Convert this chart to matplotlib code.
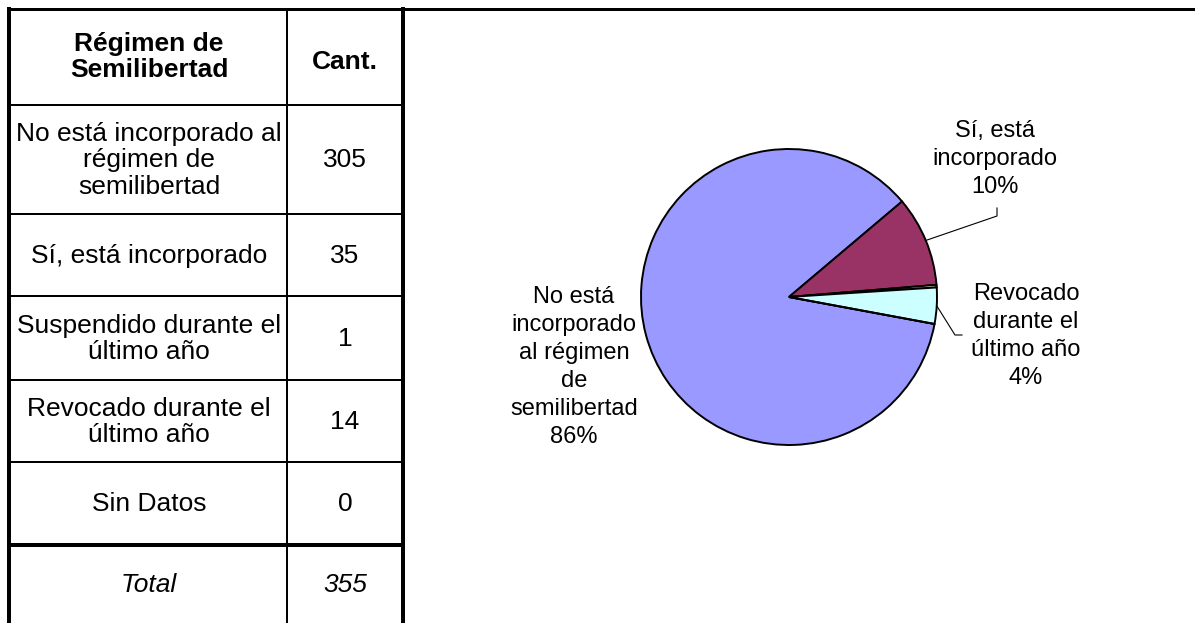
import numpy as np
import matplotlib
matplotlib.use("Agg")
import matplotlib.pyplot as plt

# ---------------- data ----------------
header_left = "Régimen de\nSemilibertad"
header_right = "Cant."
categories = ["No está incorporado al\nrégimen de\nsemilibertad",
              "Sí, está incorporado",
              "Suspendido durante el\núltimo año",
              "Revocado durante el\núltimo año",
              "Sin Datos"]
counts = [305, 35, 1, 14, 0]
total_label = "Total"
pie_labels = ["No está\nincorporado\nal régimen\nde\nsemilibertad",
              "Sí, está\nincorporado",
              None,
              "Revocado\ndurante el\núltimo año",
              None]
colors = ['#9999FF', '#993366', '#FFFFCC', '#CCFFFF', '#660066']

plt.rcParams['font.family'] = ['Liberation Sans', 'DejaVu Sans']

W, H = 1195, 623
fig = plt.figure(figsize=(W / 100, H / 100), dpi=100)

# ---------------- pie ----------------
cx, cy, R = 789, 297, 148
half = 190
pax = fig.add_axes([(cx - half) / W, (H - cy - half) / H, 2 * half / W, 2 * half / H])
wedges, _ = pax.pie(counts, colors=colors, startangle=-10.5, counterclock=False,
                    radius=1.0,
                    wedgeprops=dict(edgecolor='black', linewidth=1.4))
lim = half / R
pax.set_xlim(-lim, lim)
pax.set_ylim(-lim, lim)
pax.set_aspect('equal')
pax.axis('off')

# ---------------- overlay (pixel coords) ----------------
ax = fig.add_axes([0, 0, 1, 1])
ax.set_xlim(0, W)
ax.set_ylim(H, 0)
ax.axis('off')
ax.patch.set_alpha(0)

px = 72 / 100  # points per pixel
k = 'black'
# outer frame
ax.plot([7, W], [8.5, 8.5], color=k, lw=3 * px, solid_capstyle='butt')
ax.plot([9, 9], [7, H], color=k, lw=4 * px, solid_capstyle='butt')
ax.plot([403, 403], [7, H], color=k, lw=4 * px, solid_capstyle='butt')
ax.plot([287, 287], [8, H], color=k, lw=2 * px, solid_capstyle='butt')
row_edges = [105, 213.5, 296, 380, 461.5]
for y in row_edges:
    ax.plot([9, 403], [y, y], color=k, lw=2 * px, solid_capstyle='butt')
ax.plot([9, 403], [544.5, 544.5], color=k, lw=4 * px, solid_capstyle='butt')

tfs = 19
tls = 1.13
ax.text(149, 57, header_left, ha='center', va='center', fontsize=tfs,
        fontweight='bold', linespacing=tls)
ax.text(345, 62, header_right, ha='center', va='center', fontsize=tfs,
        fontweight='bold')
bounds = [105, 213.5, 296, 380, 461.5, 544.5]
for i, (c, n) in enumerate(zip(categories, counts)):
    yc = (bounds[i] + bounds[i + 1]) / 2 + 1
    ax.text(149, yc, c, ha='center', va='center', fontsize=tfs, linespacing=tls)
    ax.text(345, yc, str(n), ha='center', va='center', fontsize=tfs)
ax.text(149, 585, total_label, ha='center', va='center', fontsize=tfs, style='italic')
ax.text(345, 585, str(sum(counts)), ha='center', va='center', fontsize=tfs, style='italic')

# ---------------- pie labels ----------------
total = sum(counts)
label_pos = {0: (574, 367), 1: (995, 159), 3: (1026, 336)}
pfs = 17
for i, lab in enumerate(pie_labels):
    if lab is None:
        continue
    pct = round(100 * counts[i] / total)
    x, y = label_pos[i]
    ax.text(x, y, f"{lab}\n{pct}%", ha='center', va='center', fontsize=pfs,
            linespacing=1.36)


def edge_point(w):
    th = np.deg2rad((w.theta1 + w.theta2) / 2)
    return cx + R * np.cos(th), cy - R * np.sin(th)


# leader lines
x0, y0 = edge_point(wedges[1])
ax.plot([x0, 997, 997], [y0, 216, 208], color=k, lw=0.8)
x0, y0 = edge_point(wedges[3])
ax.plot([x0, 955, 962], [y0, 335, 335], color=k, lw=0.8)

fig.savefig("out.png", dpi=100)
